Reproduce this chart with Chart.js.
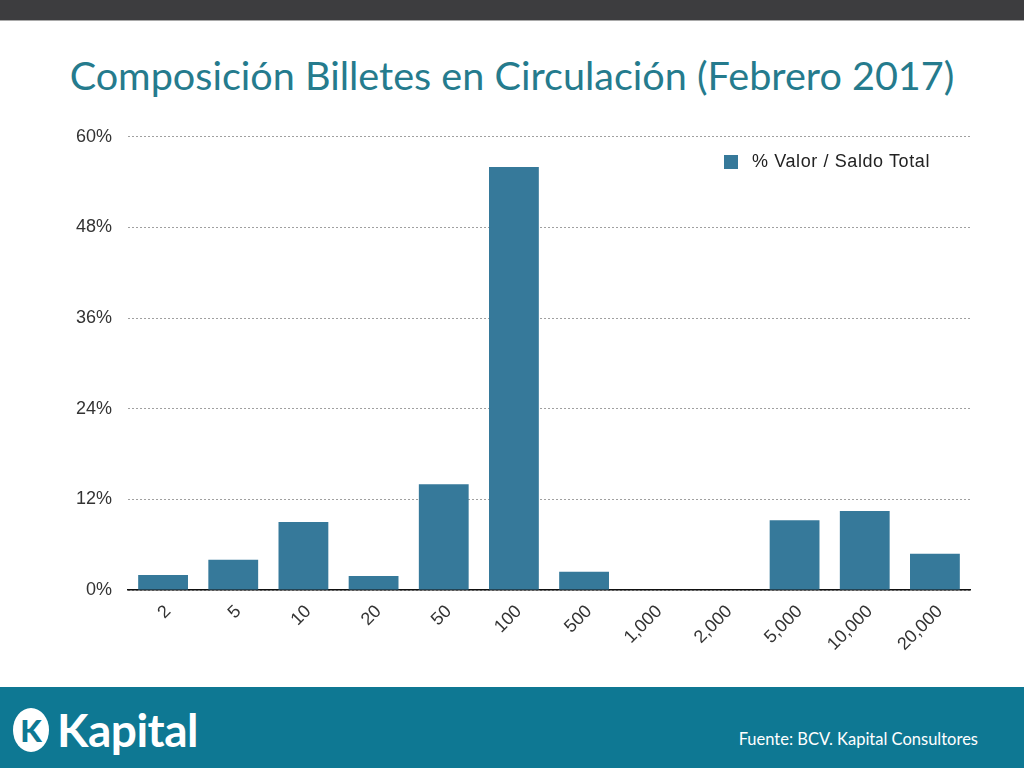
<!DOCTYPE html>
<html>
<head>
<meta charset="utf-8">
<script src="https://cdn.jsdelivr.net/npm/chart.js@4/dist/chart.umd.min.js"></script>
<style>
   html, body { margin: 0; padding: 0; background: #fff; }
   #page { position: relative; width: 1024px; height: 768px; overflow: hidden; background: #fff; }
   #topbar { position: absolute; left: 0; top: 0; width: 1024px; height: 20px; background: #3d3d3f; border-bottom: 1px solid #a9a9a9; }
   #title { position: absolute; left: 0; top: 51px; width: 1024px; text-align: center; font-family: Lato, "Noto Sans", sans-serif; font-size: 39.6px; color: #257b8d; white-space: nowrap; }
   #chartBox { position: absolute; left: 0; top: 110px; width: 1024px; height: 570px; }
   #legend { position: absolute; left: 724px; top: 151px; font-family: "Liberation Sans", Arial, sans-serif; font-size: 18px; letter-spacing: 0.6px; color: #222; display: flex; align-items: center; }
   #legend span.box { display: inline-block; width: 14px; height: 14px; margin-right: 14px; }
   #footer { position: absolute; left: 0; top: 687px; width: 1024px; height: 81px; background: #0e7893; }
   #logo { position: absolute; left: 13px; top: 15px; display: flex; align-items: center; color: #fff; }
   #logo .mark { width: 36px; height: 44px; border-radius: 50%; background: #fff; color: #0e7893; font-family: Lato, sans-serif; font-weight: 900; font-size: 31px; line-height: 44px; text-align: center; margin-right: 8px; }
   #logo .name { font-family: Lato, sans-serif; font-weight: 700; font-size: 46px; letter-spacing: -0.5px; }
   #source { position: absolute; right: 46px; top: 42px; font-family: Lato, sans-serif; font-size: 16.5px; color: #fff; }
</style>
</head>
<body>
<div id="page">
   <div id="topbar"></div>
   <div id="title">Composición Billetes en Circulación (Febrero 2017)</div>
   <div id="chartBox"><canvas id="chart"></canvas></div>
   <div id="legend"></div>
   <div id="footer">
      <div id="logo"><div class="mark">K</div><div class="name">Kapital</div></div>
      <div id="source">Fuente: BCV. Kapital Consultores</div>
   </div>
</div>
<script>
// denominations (Bs.) and share of total value, in %
const categories = ["2", "5", "10", "20", "50", "100", "500", "1,000", "2,000", "5,000", "10,000", "20,000"];
const shares = [2.0, 4.0, 9.0, 1.85, 14.0, 56.0, 2.4, 0, 0, 9.25, 10.45, 4.8];
const yTicks = [0, 12, 24, 36, 48, 60];
const seriesLabel = "% Valor / Saldo Total";
const barColor = "#36799a";

const tickFont = { family: "'Liberation Sans', Arial, sans-serif", size: 18 };

const init = () => {
   const config = {
      type: "bar",
      data: {
         labels: categories,
         datasets: [
            {
               label: seriesLabel,
               data: shares,
               backgroundColor: barColor,
               borderWidth: 0,
               barPercentage: 0.71,
               categoryPercentage: 1,
            },
         ],
      },
      options: {
         responsive: true,
         maintainAspectRatio: false,
         animation: false,
         layout: { padding: { left: 0, right: 54, top: 6, bottom: 0 } },
         plugins: {
            legend: { display: false },
            tooltip: { enabled: false },
         },
         scales: {
            x: {
               grid: { display: false, drawTicks: false },
               border: { display: true, color: "#111", width: 1.5 },
               ticks: {
                  font: tickFont,
                  color: "#333",
                  minRotation: 45,
                  maxRotation: 45,
                  padding: 11,
                  labelOffset: 5,
               },
               afterFit: (scale) => {
                  scale.height = 90;
               },
            },
            y: {
               min: yTicks[0],
               max: yTicks[yTicks.length - 1],
               afterBuildTicks: (scale) => {
                  scale.ticks = yTicks.map((v) => ({ value: v }));
               },
               grid: { color: "#a0a0a0", drawTicks: false, lineWidth: 1 },
               border: { display: false, dash: [2, 2] },
               ticks: {
                  font: tickFont,
                  color: "#333",
                  padding: 16,
                  callback: (v) => v + "%",
               },
               afterFit: (scale) => {
                  scale.width = 128;
               },
            },
         },
      },
   };

   new Chart(document.getElementById("chart"), config);

   // legend
   const legend = document.getElementById("legend");
   legend.innerHTML = '<span class="box" style="background:' + barColor + '"></span>' + seriesLabel;
};

init();
</script>
</body>
</html>
